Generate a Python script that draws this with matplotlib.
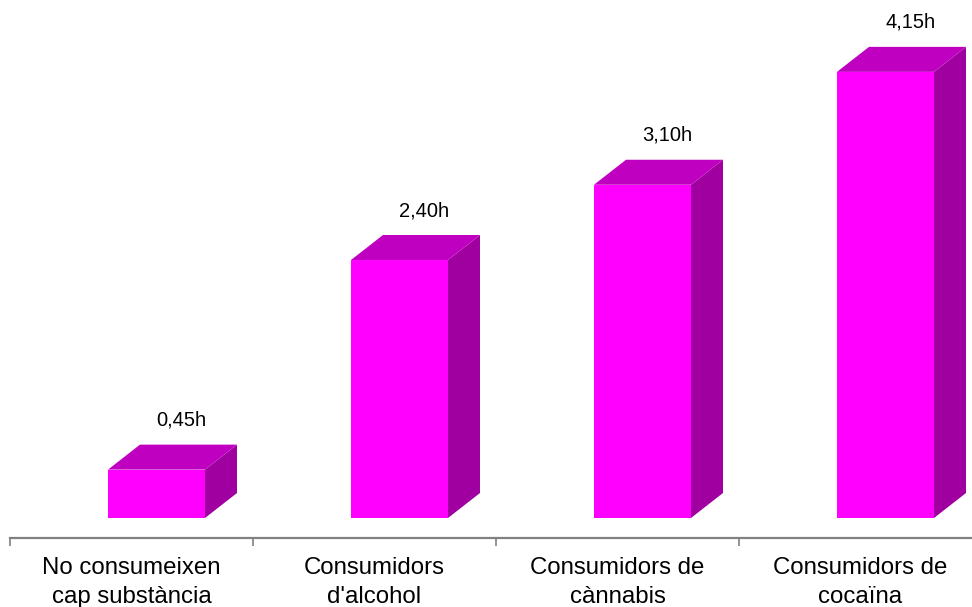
import matplotlib.pyplot as plt
from matplotlib.patches import Polygon

categories = ["No consumeixen\ncap substància", "Consumidors\nd'alcohol",
              "Consumidors de\ncànnabis", "Consumidors de\ncocaïna"]
hours = [0.45, 2.40, 3.10, 4.15]
labels = ["0,45h", "2,40h", "3,10h", "4,15h"]

W, H = 972, 607
px_x = 243.0      # pixels per category
px_y = 107.5      # pixels per hour

fig = plt.figure(figsize=(W / 100, H / 100), dpi=100)
# axes: x from pixel 10, bottom (axis line) at pixel 538, top at 0
ax = fig.add_axes([10 / W, (H - 538) / H, 4 * px_x / W, 538 / H])
ax.set_xlim(-0.5, 3.5)
ax.set_ylim(-20 / px_y, 518 / px_y)

front_c = "#FF00FF"
top_c = "#C000C0"
side_c = "#A000A0"

off = 98 / px_x      # left edge of front face from category start
bw = 97 / px_x       # front face width
dx = 32 / px_x       # depth offset
dy = 25 / px_y

for i, v in enumerate(hours):
    x0 = i - 0.5 + off
    x1 = x0 + bw
    front = Polygon([(x0, 0), (x1, 0), (x1, v), (x0, v)], closed=True,
                    facecolor=front_c, edgecolor="none")
    top = Polygon([(x0, v), (x1, v), (x1 + dx, v + dy), (x0 + dx, v + dy)],
                  closed=True, facecolor=top_c, edgecolor="none")
    side = Polygon([(x1, 0), (x1 + dx, dy), (x1 + dx, v + dy), (x1, v)],
                   closed=True, facecolor=side_c, edgecolor="none")
    for p in (side, top, front):
        ax.add_patch(p)
    ax.text((x0 + x1 + dx) / 2 + 9 / px_x, v + dy + 24.5 / px_y, labels[i],
            ha="center", va="center", fontsize=14.5, family="Liberation Sans")

for s in ("top", "right", "left"):
    ax.spines[s].set_visible(False)
ax.spines["bottom"].set_color("#808080")
ax.spines["bottom"].set_linewidth(1.6)
ax.set_yticks([])
ax.set_xticks([-0.5, 0.5, 1.5, 2.5, 3.5])
ax.set_xticklabels([])
ax.tick_params(axis="x", direction="out", length=6, width=1.2, color="#808080")
ax.set_xticks(range(4), minor=True)
ax.set_xticklabels(categories, minor=True, fontsize=17.3,
                   family="Liberation Sans", linespacing=1.4)
ax.tick_params(axis="x", which="minor", length=0, pad=13.5)

fig.savefig("out.png", dpi=100)
